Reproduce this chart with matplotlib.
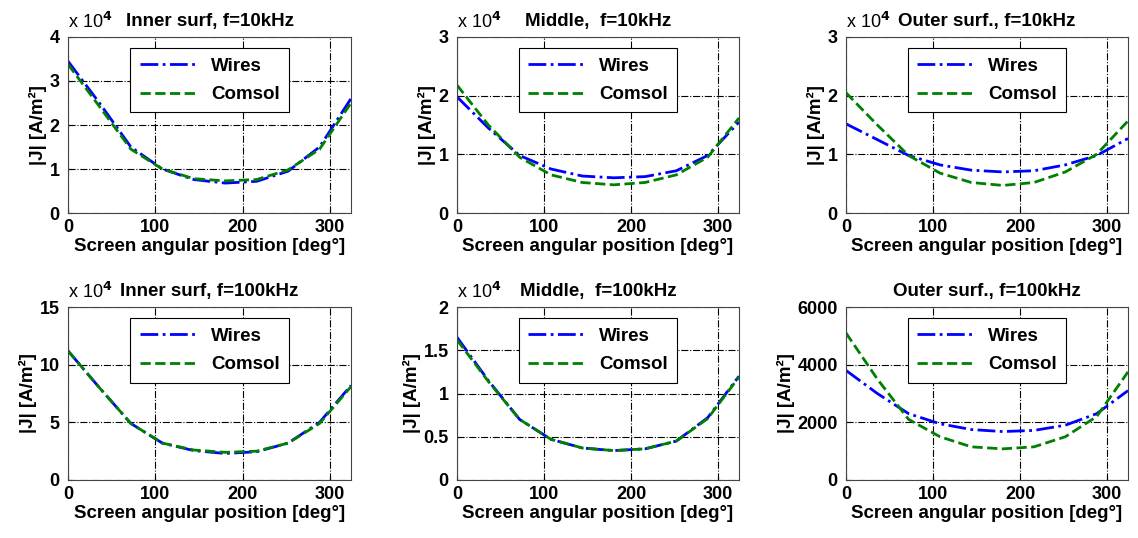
import numpy as np
import matplotlib
matplotlib.use("Agg")
import matplotlib.pyplot as plt

plt.rcParams["font.family"] = ["Liberation Sans", "DejaVu Sans"]
plt.rcParams["font.weight"] = "bold"
plt.rcParams["axes.labelweight"] = "bold"
plt.rcParams["axes.titleweight"] = "bold"

# 角度 (deg)
angle = [0, 36, 72, 108, 144, 180, 216, 252, 288, 324]

# 10kHz (x 1e4 A/m^2)
inner10_wires = [3.45, 2.5, 1.5, 1.0, 0.76, 0.68, 0.72, 0.95, 1.5, 2.6]
inner10_comsol = [3.38, 2.42, 1.45, 1.0, 0.78, 0.73, 0.76, 0.98, 1.45, 2.5]
middle10_wires = [1.98, 1.45, 0.98, 0.75, 0.63, 0.60, 0.62, 0.72, 0.98, 1.55]
middle10_comsol = [2.18, 1.5, 0.95, 0.65, 0.52, 0.48, 0.52, 0.65, 0.95, 1.62]
outer10_wires = [1.52, 1.25, 0.98, 0.82, 0.73, 0.70, 0.72, 0.82, 0.98, 1.27]
outer10_comsol = [2.05, 1.5, 0.98, 0.68, 0.52, 0.47, 0.52, 0.70, 1.0, 1.57]

# 100kHz
inner100_wires = [11.2, 8.0, 4.9, 3.2, 2.55, 2.3, 2.45, 3.2, 5.0, 8.2]
inner100_comsol = [11.2, 8.0, 4.9, 3.2, 2.6, 2.4, 2.5, 3.2, 4.9, 8.1]
middle100_wires = [1.65, 1.15, 0.70, 0.47, 0.37, 0.34, 0.36, 0.45, 0.72, 1.2]
middle100_comsol = [1.62, 1.14, 0.70, 0.47, 0.37, 0.34, 0.36, 0.45, 0.71, 1.19]
outer100_wires = [3800, 3000, 2300, 1950, 1750, 1680, 1720, 1900, 2300, 3100]
outer100_comsol = [5100, 3500, 2100, 1500, 1150, 1080, 1150, 1500, 2200, 3750]

panels = [
    ("Inner surf, f=10kHz", inner10_wires, inner10_comsol, 4, [0, 1, 2, 3, 4], True),
    ("Middle,  f=10kHz", middle10_wires, middle10_comsol, 3, [0, 1, 2, 3], True),
    ("Outer surf., f=10kHz", outer10_wires, outer10_comsol, 3, [0, 1, 2, 3], True),
    ("Inner surf, f=100kHz", inner100_wires, inner100_comsol, 15, [0, 5, 10, 15], True),
    ("Middle,  f=100kHz", middle100_wires, middle100_comsol, 2, [0, 0.5, 1, 1.5, 2], True),
    ("Outer surf., f=100kHz", outer100_wires, outer100_comsol, 6000, [0, 2000, 4000, 6000], False),
]

fig = plt.figure(figsize=(11.38, 5.38), dpi=100)
W, H = 1138, 538
lefts = [68, 457, 846]
rights = [351, 739, 1128]
rows = [(37, 213), (307, 480)]

for i, (title, wires, comsol, ymax, yticks, scaled) in enumerate(panels):
    r, c = divmod(i, 3)
    top, bot = rows[r]
    ax = fig.add_axes([lefts[c] / W, 1 - bot / H, (rights[c] - lefts[c]) / W, (bot - top) / H])
    ax.plot(angle, wires, color="blue", linestyle="-.", linewidth=2, label="Wires")
    ax.plot(angle, comsol, color="green", linestyle="--", linewidth=2, label="Comsol")
    ax.set_xlim(0, 324)
    ax.set_ylim(0, ymax)
    ax.set_xticks([0, 100, 200, 300])
    ax.set_yticks(yticks)
    ax.set_yticklabels([f"{v:g}" for v in yticks])
    ax.grid(True, color="black", linestyle="-.", linewidth=0.8)
    ax.tick_params(direction="in", labelsize=13, length=3)
    ax.tick_params(axis="x", pad=4)
    ax.tick_params(axis="y", pad=6)
    for s in ax.spines.values():
        s.set_color("#444444")
    ax.set_xlabel("Screen angular position [deg°]", fontsize=13.5, labelpad=2)
    ax.set_ylabel("|J| [A/m²]", fontsize=13.5, labelpad=2)
    ax.set_title(title, fontsize=13.5, pad=8)
    if scaled:
        ax.text(0.0, 1.03, "x 10$^{4}$", transform=ax.transAxes, fontsize=13,
                ha="left", va="bottom", fontweight="normal")
    leg = ax.legend(loc="upper center", fontsize=13.5, handlelength=3.0,
                    fancybox=False, framealpha=1, edgecolor="black",
                    borderpad=0.5, labelspacing=0.6, borderaxespad=0.6)
    leg.get_frame().set_linewidth(0.8)

fig.savefig("out.png", dpi=100)
